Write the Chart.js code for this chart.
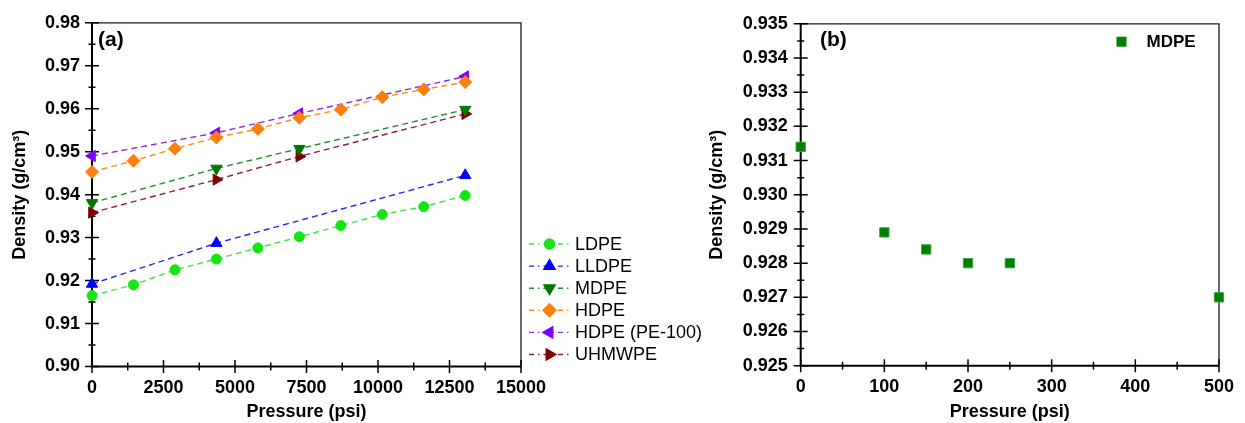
<!DOCTYPE html>
<html>
<head>
<meta charset="utf-8">
<script src="https://cdn.jsdelivr.net/npm/chart.js@4.4.1/dist/chart.umd.min.js"></script>
<style>
    html, body { margin: 0; padding: 0; background: #fff; }
    #wrap { position: relative; width: 1245px; height: 423px; overflow: hidden; }
    #chartA { position: absolute; left: 0; top: 0; }
    #chartB { position: absolute; left: 690px; top: 0; }
</style>
</head>
<body>
<div id="wrap">
    <canvas id="chartA" width="720" height="423"></canvas>
    <canvas id="chartB" width="555" height="423"></canvas>
</div>
<script>
// ---- data ----
const pressureAll = [0, 1450, 2900, 4350, 5800, 7250, 8700, 10150, 11600, 13050];
const pressureFour = [0, 4350, 7250, 13050];
const pressureThree = [0, 4350, 13050];

const ldpe = [0.9165, 0.9190, 0.9225, 0.9250, 0.9276, 0.9302, 0.9328, 0.9354, 0.9372, 0.9398];
const lldpe = [0.9192, 0.9287, 0.9445];
const mdpe = [0.9381, 0.9461, 0.9507, 0.9598];
const hdpe = [0.9453, 0.9479, 0.9507, 0.9533, 0.9553, 0.9579, 0.9598, 0.9627, 0.9645, 0.9662];
const hdpe100 = [0.9490, 0.9544, 0.9589, 0.9675];
const uhmwpe = [0.9358, 0.9435, 0.9489, 0.9588];

const pressureB = [0, 100, 150, 200, 250, 500];
const mdpeB = [0.9314, 0.9289, 0.9284, 0.9280, 0.9280, 0.9270];

const FONT = '"Liberation Sans", Arial, sans-serif';

const toXY = (xs, ys) => xs.map((x, i) => ({ x: x, y: ys[i] }));

function series(label, xs, ys, marker, line, style, rot, radius) {
    return {
        label: label,
        data: toXY(xs, ys),
        showLine: true,
        borderColor: line,
        borderWidth: 1.4,
        borderDash: [6, 4],
        pointStyle: style,
        rotation: rot,
        pointRadius: radius,
        pointBackgroundColor: marker,
        pointBorderColor: marker,
        pointBorderWidth: 1,
        clip: false
    };
}

// frame + crossing major/minor ticks, drawn before the points
function axesPlugin(cfg) {
    return {
        id: 'axesBox',
        beforeDatasetsDraw(chart) {
            const ctx = chart.ctx;
            const a = chart.chartArea;
            const xs = chart.scales.x, ys = chart.scales.y;
            ctx.save();
            ctx.strokeStyle = '#1a1a1a';
            ctx.lineWidth = 1.3;
            ctx.beginPath();
            ctx.moveTo(a.left, a.top); ctx.lineTo(a.right, a.top); ctx.lineTo(a.right, a.bottom);
            ctx.stroke();
            ctx.strokeStyle = '#000';
            ctx.lineWidth = 2;
            ctx.beginPath();
            ctx.moveTo(a.left, a.top); ctx.lineTo(a.left, a.bottom); ctx.lineTo(a.right, a.bottom);
            ctx.stroke();
            ctx.lineWidth = 1.5;
            ctx.beginPath();
            for (let v = cfg.xMin; v <= cfg.xMax + 1e-9; v += cfg.xStep / 2) {
                const px = xs.getPixelForValue(v);
                const major = Math.abs(Math.round(v / cfg.xStep) * cfg.xStep - v) < 1e-6;
                const h = major ? 6.5 : 4;
                ctx.moveTo(px, a.bottom - h); ctx.lineTo(px, a.bottom + h);
            }
            const n = Math.round((cfg.yMax - cfg.yMin) / (cfg.yStep / 2));
            for (let i = 0; i <= n; i++) {
                const v = cfg.yMin + i * cfg.yStep / 2;
                const py = ys.getPixelForValue(v);
                const w = i % 2 === 0 ? 7 : 3.5;
                ctx.moveTo(a.left - w, py); ctx.lineTo(a.left + w, py);
            }
            ctx.stroke();
            ctx.restore();
        }
    };
}

const legendA = {
    id: 'legendA',
    afterDraw(chart) {
        const ctx = chart.ctx;
        ctx.save();
        ctx.font = 'bold 21px ' + FONT;
        ctx.fillStyle = '#000';
        ctx.textBaseline = 'middle';
        ctx.textAlign = 'left';
        ctx.fillText('(a)', 98, 40);
        ctx.font = '18px ' + FONT;
        chart.data.datasets.forEach((ds, i) => {
            const y = 244 + i * 22.1;
            ctx.strokeStyle = ds.borderColor;
            ctx.lineWidth = 1.4;
            ctx.setLineDash([5, 4, 1.5, 4]);
            ctx.beginPath();
            ctx.moveTo(529, y); ctx.lineTo(571, y);
            ctx.stroke();
            ctx.setLineDash([]);
            ctx.fillStyle = ds.pointBackgroundColor;
            ctx.strokeStyle = ds.pointBorderColor;
            Chart.helpers.drawPoint(ctx, {
                pointStyle: ds.pointStyle, rotation: ds.rotation,
                radius: ds.pointRadius, borderWidth: 1
            }, 549.5, y);
            ctx.fillStyle = '#000';
            ctx.fillText(ds.label, 575, y + 1);
        });
        ctx.restore();
    }
};

const legendB = {
    id: 'legendB',
    afterDraw(chart) {
        const ctx = chart.ctx;
        ctx.save();
        ctx.font = 'bold 21px ' + FONT;
        ctx.fillStyle = '#000';
        ctx.textBaseline = 'middle';
        ctx.fillText('(b)', 130, 40);
        ctx.fillStyle = '#008000';
        ctx.fillRect(426.5, 36.7, 10, 10);
        ctx.font = 'bold 17px ' + FONT;
        ctx.fillStyle = '#000';
        ctx.fillText('MDPE', 456.5, 42);
        ctx.restore();
    }
};

const tickFont = { family: FONT, size: 18, weight: 'bold' };
const titleFont = { family: FONT, size: 18, weight: 'bold' };

new Chart(document.getElementById('chartA'), {
    type: 'scatter',
    data: {
        datasets: [
            series('LDPE', pressureAll, ldpe, '#14e614', '#3ee63e', 'circle', 0, 5),
            series('LLDPE', pressureThree, lldpe, '#0000ff', '#2222ff', 'triangle', 0, 6.5),
            series('MDPE', pressureFour, mdpe, '#007800', '#2a8a2a', 'triangle', 180, 6.5),
            series('HDPE', pressureAll, hdpe, '#ff7f0e', '#ff8c1a', 'rectRot', 0, 6.5),
            series('HDPE (PE-100)', pressureFour, hdpe100, '#8000ff', '#8a2be2', 'triangle', 270, 6.5),
            series('UHMWPE', pressureFour, uhmwpe, '#800000', '#8b1a50', 'triangle', 90, 6.5)
        ]
    },
    options: {
        responsive: false,
        animation: false,
        events: [],
        layout: { padding: { left: 0, top: 21, right: 199, bottom: 0 } },
        plugins: { legend: { display: false }, tooltip: { enabled: false } },
        scales: {
            x: {
                type: 'linear', min: 0, max: 15000,
                afterFit(s) { s.height = 56.5; },
                grid: { display: false, drawTicks: false },
                border: { display: false },
                ticks: { stepSize: 2500, padding: 11, color: '#000', font: tickFont,
                    callback: v => String(v) },
                title: { display: true, text: 'Pressure (psi)', color: '#000', font: titleFont,
                    padding: { top: 0, bottom: 0 } }
            },
            y: {
                min: 0.90, max: 0.98,
                afterFit(s) { s.width = 92; },
                grid: { display: false, drawTicks: false },
                border: { display: false },
                ticks: { stepSize: 0.01, padding: 12, color: '#000', font: tickFont,
                    callback: v => v.toFixed(2) },
                title: { display: true, text: 'Density (g/cm³)', color: '#000', font: titleFont,
                    padding: { top: 9, bottom: 0 } }
            }
        }
    },
    plugins: [axesPlugin({ xMin: 0, xMax: 15000, xStep: 2500, yMin: 0.90, yMax: 0.98, yStep: 0.01 }), legendA]
});

new Chart(document.getElementById('chartB'), {
    type: 'scatter',
    data: {
        datasets: [{
            label: 'MDPE',
            data: toXY(pressureB, mdpeB),
            pointStyle: 'rect',
            pointRadius: 6.6,
            pointBackgroundColor: '#008000',
            pointBorderColor: '#3aa53a',
            pointBorderWidth: 1,
            clip: false
        }]
    },
    options: {
        responsive: false,
        animation: false,
        events: [],
        layout: { padding: { left: 0, top: 18.7, right: 15.7, bottom: 0 } },
        plugins: { legend: { display: false }, tooltip: { enabled: false } },
        scales: {
            x: {
                type: 'linear', min: 0, max: 500,
                afterFit(s) { s.height = 57.3; },
                grid: { display: false, drawTicks: false },
                border: { display: false },
                ticks: { stepSize: 100, padding: 11, color: '#000', font: tickFont,
                    callback: v => String(v) },
                title: { display: true, text: 'Pressure (psi)', color: '#000', font: titleFont,
                    padding: { top: 0, bottom: 0 } }
            },
            y: {
                min: 0.925, max: 0.935,
                afterFit(s) { s.width = 110.7; },
                grid: { display: false, drawTicks: false },
                border: { display: false },
                ticks: { stepSize: 0.001, padding: 13, color: '#000', font: tickFont,
                    callback: v => v.toFixed(3) },
                title: { display: true, text: 'Density (g/cm³)', color: '#000', font: titleFont,
                    padding: { top: 16, bottom: 0 } }
            }
        }
    },
    plugins: [axesPlugin({ xMin: 0, xMax: 500, xStep: 100, yMin: 0.925, yMax: 0.935, yStep: 0.001 }), legendB]
});
</script>
</body>
</html>
